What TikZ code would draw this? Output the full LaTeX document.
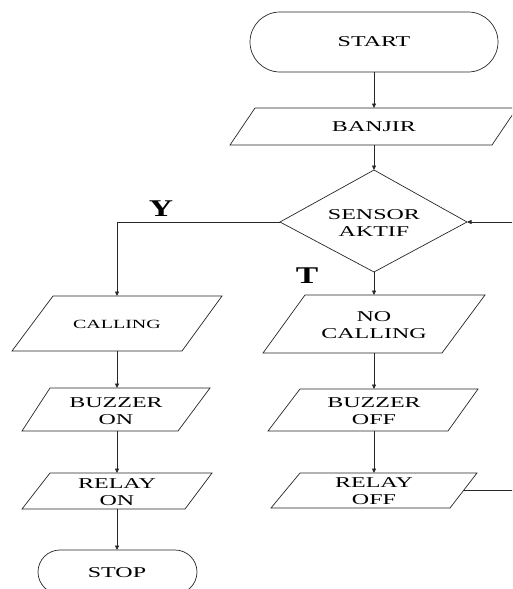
\documentclass[tikz,border=0pt]{standalone}
\usepackage{fontspec}
\setmainfont{Liberation Serif}
\usetikzlibrary{arrows.meta}
\newcommand{\xtxt}[1]{\scalebox{1.6}[1]{#1}}
\newcommand{\ytxt}[1]{\scalebox{1.4}[1]{#1}}
\tikzset{
  shp/.style={draw=black!85, line width=0.7pt},
  conn/.style={draw=black!85, line width=0.7pt, -{Triangle[length=4.5pt,width=4pt]}},
  lbl/.style={font=\fontsize{15}{16.5}\selectfont, align=center, inner sep=0pt},
  small/.style={font=\fontsize{12.5}{14}\selectfont, align=center, inner sep=0pt},
  yt/.style={font=\fontsize{24}{24}\selectfont\bfseries, inner sep=0pt}
}
\begin{document}
\begin{tikzpicture}[x=1pt,y=-1pt]
\useasboundingbox (0,0) rectangle (512,589);
\clip (0,0) rectangle (512,589);
% shapes
\draw[shp, rounded corners=30pt] (250,12) rectangle (498,72);
\node[lbl] (start) at (374,42) {\xtxt{START}};
\draw[shp] (255,108) -- (517,108) -- (492,145) -- (230,145) -- cycle;
\node[lbl] (banjir) at (374,127) {\xtxt{BANJIR}};
\draw[shp] (374,170) -- (467,222) -- (374,272) -- (280,222) -- cycle;
\node[lbl] (sensor) at (374,223) {\xtxt{SENSOR}\\\xtxt{AKTIF}};
% left column
\draw[shp] (53,296) -- (222,296) -- (182,351) -- (12,351) -- cycle;
\node[small] (calling) at (117,324) {\xtxt{CALLING}};
\draw[shp] (50,388) -- (210,388) -- (178,431) -- (22,431) -- cycle;
\node[lbl] (buzon) at (116,411) {\xtxt{BUZZER}\\\xtxt{ON}};
\draw[shp] (50,473) -- (212,473) -- (185,509) -- (22,509) -- cycle;
\node[lbl] (relon) at (117,492) {\xtxt{RELAY}\\\xtxt{ON}};
\draw[shp, rounded corners=22pt] (38,550) rectangle (197,594);
\node[lbl] (stop) at (117,573) {\xtxt{STOP}};
% right column
\draw[shp] (305,295) -- (485,295) -- (442,353) -- (263,353) -- cycle;
\node[lbl] (nocall) at (374,325) {\xtxt{NO}\\\xtxt{CALLING}};
\draw[shp] (300,389) -- (478,389) -- (448,431) -- (268,431) -- cycle;
\node[lbl] (buzoff) at (374,411) {\xtxt{BUZZER}\\\xtxt{OFF}};
\draw[shp] (300,473) -- (477,473) -- (450,508) -- (271,508) -- cycle;
\node[lbl] (reloff) at (374,491) {\xtxt{RELAY}\\\xtxt{OFF}};
% labels
\node[yt] (ylab) at (161,209) {\ytxt{Y}};
\node[yt] (tlab) at (307,276) {\ytxt{T}};
% connection coordinates
\coordinate (startB) at (374,72);
\coordinate (banjirT) at (374,108);
\coordinate (banjirB) at (374,145);
\coordinate (dT) at (374,170);
\coordinate (dB) at (374,272);
\coordinate (dL) at (280,222);
\coordinate (dR) at (467,222);
\coordinate (corner) at (117,222);
\coordinate (callT) at (117,296);
\coordinate (callB) at (117,351);
\coordinate (buzonT) at (117,388);
\coordinate (buzonB) at (117,431);
\coordinate (relonT) at (117,473);
\coordinate (relonB) at (117,509);
\coordinate (stopT) at (117,550);
\coordinate (nocT) at (374,295);
\coordinate (nocB) at (374,353);
\coordinate (buzoffT) at (374,389);
\coordinate (buzoffB) at (374,431);
\coordinate (reloffT) at (374,473);
\coordinate (reloffR) at (463,490);
\coordinate (loopA) at (518,490);
\coordinate (loopB) at (518,222);
% connectors
\draw[conn] (startB) -- (banjirT);
\draw[conn] (banjirB) -- (dT);
\draw[conn] (dL) -- (corner) -- (callT);
\draw[conn] (callB) -- (buzonT);
\draw[conn] (buzonB) -- (relonT);
\draw[conn] (relonB) -- (stopT);
\draw[conn] (dB) -- (nocT);
\draw[conn] (nocB) -- (buzoffT);
\draw[conn] (buzoffB) -- (reloffT);
\draw[conn] (reloffR) -- (loopA) -- (loopB) -- (dR);
\end{tikzpicture}
\end{document}
